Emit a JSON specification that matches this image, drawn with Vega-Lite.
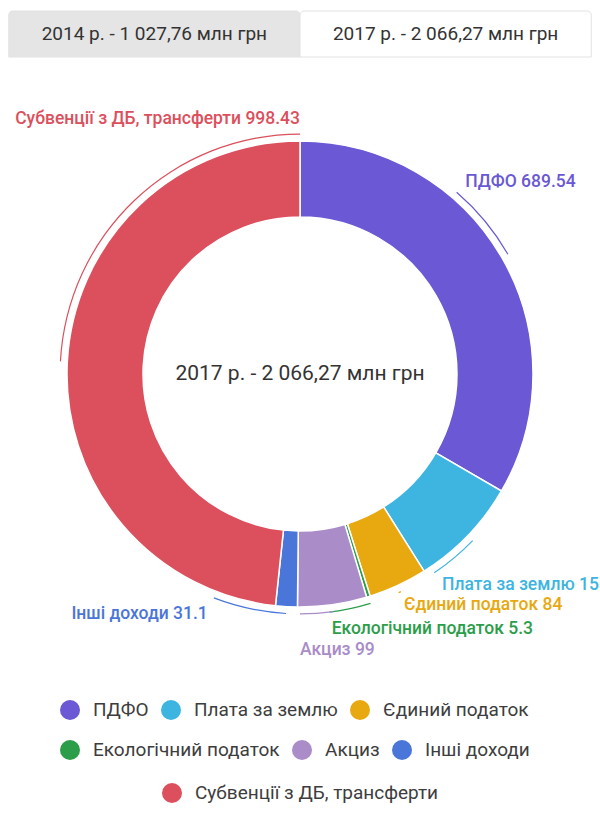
{
  "$schema": "https://vega.github.io/schema/vega-lite/v6.json",
  "padding": {"top": 10, "left": 0, "right": 0, "bottom": 0},
  "spacing": 0,
  "background": "#ffffff",
  "config": {
    "view": {"stroke": null},
    "font": "Roboto",
    "legend": {
      "symbolType": "circle",
      "symbolSize": 400,
      "symbolStrokeWidth": 0,
      "labelFontSize": 19,
      "labelColor": "#3d3d3d",
      "labelFont": "Roboto",
      "labelOffset": 13,
      "labelLimit": 400,
      "columnPadding": 12,
      "padding": 0,
      "titlePadding": 0
    }
  },
  "resolve": {"scale": {"color": "independent"}, "legend": {"color": "independent"}},
  "vconcat": [
    {
      "width": 600,
      "height": 46,
      "data": {"values": [
        {"tab": "2014 р. - 1 027,76 млн грн", "active": false},
        {"tab": "2017 р. - 2 066,27 млн грн", "active": true}
      ]},
      "encoding": {
        "x": {"field": "tab", "type": "nominal", "axis": null, "sort": null, "scale": {"paddingInner": 0, "paddingOuter": 0.03}}
      },
      "layer": [
        {
          "mark": {"type": "bar", "cornerRadiusTopLeft": 4, "cornerRadiusTopRight": 4, "stroke": "#e2e2e2", "strokeWidth": 1},
          "encoding": {"fill": {"condition": {"test": "datum.active", "value": "#ffffff"}, "value": "#e5e5e5"}}
        },
        {
          "mark": {"type": "text", "fontSize": 19, "color": "#333333"},
          "encoding": {"text": {"field": "tab"}}
        }
      ]
    },
    {
      "width": 600,
      "height": 632,
      "data": {"values": [
        {"cat": "ПДФО", "value": 689.54},
        {"cat": "Плата за землю", "value": 158.9},
        {"cat": "Єдиний податок", "value": 84},
        {"cat": "Екологічний податок", "value": 5.3},
        {"cat": "Акциз", "value": 99},
        {"cat": "Інші доходи", "value": 31.1},
        {"cat": "Субвенції з ДБ, трансферти", "value": 998.43}
      ]},
      "transform": [
        {"window": [{"op": "row_number", "as": "idx"}]},
        {"joinaggregate": [{"op": "sum", "field": "value", "as": "total"}]},
        {"window": [{"op": "sum", "field": "value", "as": "cum"}], "sort": [{"field": "idx"}], "frame": [null, 0]},
        {"calculate": "datum.cum / datum.total * 360", "as": "e"},
        {"calculate": "(datum.cum - datum.value) / datum.total * 360", "as": "s"},
        {"calculate": "(datum.s + datum.e) / 2", "as": "m"},
        {"calculate": "datum.cat === 'ПДФО' ? -19.3 : datum.cat === 'Плата за землю' ? 12 : datum.cat === 'Єдиний податок' ? 0.6 : datum.cat === 'Екологічний податок' ? 10 : datum.cat === 'Акциз' ? 8 : datum.cat === 'Інші доходи' ? 17.7 : 90", "as": "off"},
        {"calculate": "min(360, datum.m + datum.off)", "as": "la"},
        {"calculate": "datum.cat + ' ' + datum.value", "as": "lbl"}
      ],
      "resolve": {"scale": {"color": "independent"}, "legend": {"color": "independent"}},
      "layer": [
        {
          "transform": [{"filter": {"field": "cat", "oneOf": ["ПДФО", "Плата за землю", "Єдиний податок"]}}],
          "encoding": {
            "color": {"field": "cat", "type": "nominal",
              "scale": {"domain": ["ПДФО", "Плата за землю", "Єдиний податок"], "range": ["#6a58d4", "#3db5e0", "#e8a80f"]},
              "legend": {"orient": "none", "legendX": 60, "legendY": 642, "direction": "horizontal", "title": null}}
          },
          "layer": [
            {"mark": {"type": "arc", "outerRadius": 233, "innerRadius": 157, "stroke": "#ffffff", "strokeWidth": 1.5},
             "encoding": {"theta": {"field": "s", "type": "quantitative", "scale": {"domain": [0, 360]}}, "theta2": {"field": "e"}}},
            {"mark": {"type": "arc", "outerRadius": 240.5, "innerRadius": 239.3},
             "encoding": {"theta": {"field": "m", "type": "quantitative", "scale": {"domain": [0, 360]}}, "theta2": {"field": "la"}}},
            {"transform": [{"filter": "datum.cat !== 'Плата за землю'"}],
             "mark": {"type": "text", "radius": 253, "align": "left", "baseline": "middle", "fontSize": 17.5, "fontWeight": 500},
             "encoding": {"theta": {"field": "la", "type": "quantitative", "scale": {"domain": [0, 360]}}, "text": {"field": "lbl"}}},
            {"transform": [{"filter": "datum.cat === 'Плата за землю'"}],
             "mark": {"type": "text", "radius": 254, "align": "left", "baseline": "middle", "fontSize": 17.5, "fontWeight": 500, "limit": 158, "ellipsis": "\u200b"},
             "encoding": {"theta": {"field": "la", "type": "quantitative", "scale": {"domain": [0, 360]}}, "text": {"field": "lbl"}}}
          ]
        },
        {
          "transform": [{"filter": {"field": "cat", "oneOf": ["Екологічний податок", "Акциз", "Інші доходи"]}}],
          "encoding": {
            "color": {"field": "cat", "type": "nominal",
              "scale": {"domain": ["Екологічний податок", "Акциз", "Інші доходи"], "range": ["#2c9e4a", "#a98cc8", "#4a76d9"]},
              "legend": {"orient": "none", "legendX": 60, "legendY": 682, "direction": "horizontal", "title": null}}
          },
          "layer": [
            {"mark": {"type": "arc", "outerRadius": 233, "innerRadius": 157, "stroke": "#ffffff", "strokeWidth": 1.5},
             "encoding": {"theta": {"field": "s", "type": "quantitative", "scale": {"domain": [0, 360]}}, "theta2": {"field": "e"}}},
            {"mark": {"type": "arc", "outerRadius": 240.5, "innerRadius": 239.3},
             "encoding": {"theta": {"field": "m", "type": "quantitative", "scale": {"domain": [0, 360]}}, "theta2": {"field": "la"}}},
            {"transform": [{"filter": "datum.cat === 'Екологічний податок'"}],
             "mark": {"type": "text", "radius": 257, "align": "left", "baseline": "middle", "fontSize": 17.5, "fontWeight": 500},
             "encoding": {"theta": {"field": "la", "type": "quantitative", "scale": {"domain": [0, 360]}}, "text": {"field": "lbl"}}},
            {"transform": [{"filter": "datum.cat === 'Акциз'"}],
             "mark": {"type": "text", "radius": 276, "align": "left", "baseline": "middle", "fontSize": 17.5, "fontWeight": 500},
             "encoding": {"theta": {"field": "la", "type": "quantitative", "scale": {"domain": [0, 360]}}, "text": {"field": "lbl"}}},
            {"transform": [{"filter": "datum.cat === 'Інші доходи'"}],
             "mark": {"type": "text", "radius": 257, "align": "right", "baseline": "middle", "fontSize": 17.5, "fontWeight": 500},
             "encoding": {"theta": {"field": "la", "type": "quantitative", "scale": {"domain": [0, 360]}}, "text": {"field": "lbl"}}}
          ]
        },
        {
          "transform": [{"filter": {"field": "cat", "oneOf": ["Субвенції з ДБ, трансферти"]}}],
          "encoding": {
            "color": {"field": "cat", "type": "nominal",
              "scale": {"domain": ["Субвенції з ДБ, трансферти"], "range": ["#dc4f5d"]},
              "legend": {"orient": "none", "legendX": 162, "legendY": 725, "direction": "horizontal", "title": null}}
          },
          "layer": [
            {"mark": {"type": "arc", "outerRadius": 233, "innerRadius": 157, "stroke": "#ffffff", "strokeWidth": 1.5},
             "encoding": {"theta": {"field": "s", "type": "quantitative", "scale": {"domain": [0, 360]}}, "theta2": {"field": "e"}}},
            {"mark": {"type": "arc", "outerRadius": 240.5, "innerRadius": 239.3},
             "encoding": {"theta": {"field": "m", "type": "quantitative", "scale": {"domain": [0, 360]}}, "theta2": {"field": "la"}}},
            {"mark": {"type": "text", "radius": 255, "align": "right", "baseline": "middle", "fontSize": 17.5, "fontWeight": 500},
             "encoding": {"theta": {"field": "la", "type": "quantitative", "scale": {"domain": [0, 360]}}, "text": {"field": "lbl"}}}
          ]
        },
        {
          "data": {"values": [{"t": "2017 р. - 2 066,27 млн грн"}]},
          "mark": {"type": "text", "fontSize": 21, "color": "#333333"},
          "encoding": {"text": {"field": "t"}}
        }
      ]
    }
  ]
}
